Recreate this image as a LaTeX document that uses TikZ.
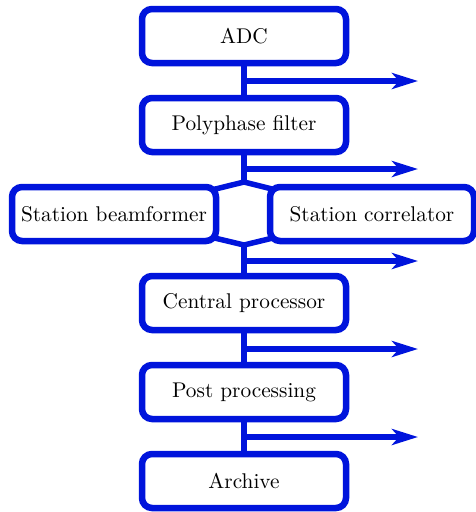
\documentclass[tikz,border=0pt]{standalone}
\usepackage{fontspec}
\setmainfont{lmroman10-regular.otf}
\usepackage{tikz}
\usetikzlibrary{positioning}
\usetikzlibrary{arrows.meta}
\usetikzlibrary{backgrounds}
\definecolor{flowblue}{RGB}{0,20,220}
\tikzset{stage/.style={draw=flowblue,line width=6.5pt,rounded corners=10pt,fill=white,
  minimum width=204pt,minimum height=54pt,inner sep=0pt,font=\fontsize{21.3}{25}\selectfont}}
\tikzset{trunk/.style={draw=flowblue,line width=5.5pt}}
\tikzset{tap/.style={trunk,-{Stealth[length=26pt,width=16pt,inset=7pt]}}}

\begin{document}
\begin{tikzpicture}[x=1pt,y=-1pt]
\useasboundingbox (0,0) rectangle (475,512);
\node[stage] (adc) at (244,36) {ADC};
\node[stage] (pfb) at (244,125) {Polyphase filter};
\node[stage] (sbf) at (114,214) {Station beamformer};
\node[stage] (scor) at (372,214) {Station correlator};
\node[stage] (cp) at (244,303) {Central processor};
\node[stage] (pp) at (244,392) {Post processing};
\node[stage] (arch) at (244,481) {Archive};
\coordinate (split) at (244,182);
\coordinate (merge) at (244,245);
\begin{scope}[on background layer]
\draw[trunk] (adc.center) -- (pfb.center) -- (split);
\draw[trunk] (split) -- (sbf.center) -- (merge) -- (scor.center) -- cycle;
\draw[trunk] (merge) -- (cp.center) -- (pp.center) -- (arch.center);
\end{scope}
\foreach \n/\y in {a/81,b/169,c/261,d/349,e/437} {
  \coordinate (tap\n) at (244,\y);
  \coordinate (out\n) at (418,\y);
  \draw[tap] (tap\n) -- (out\n);
}
\end{tikzpicture}
\end{document}
